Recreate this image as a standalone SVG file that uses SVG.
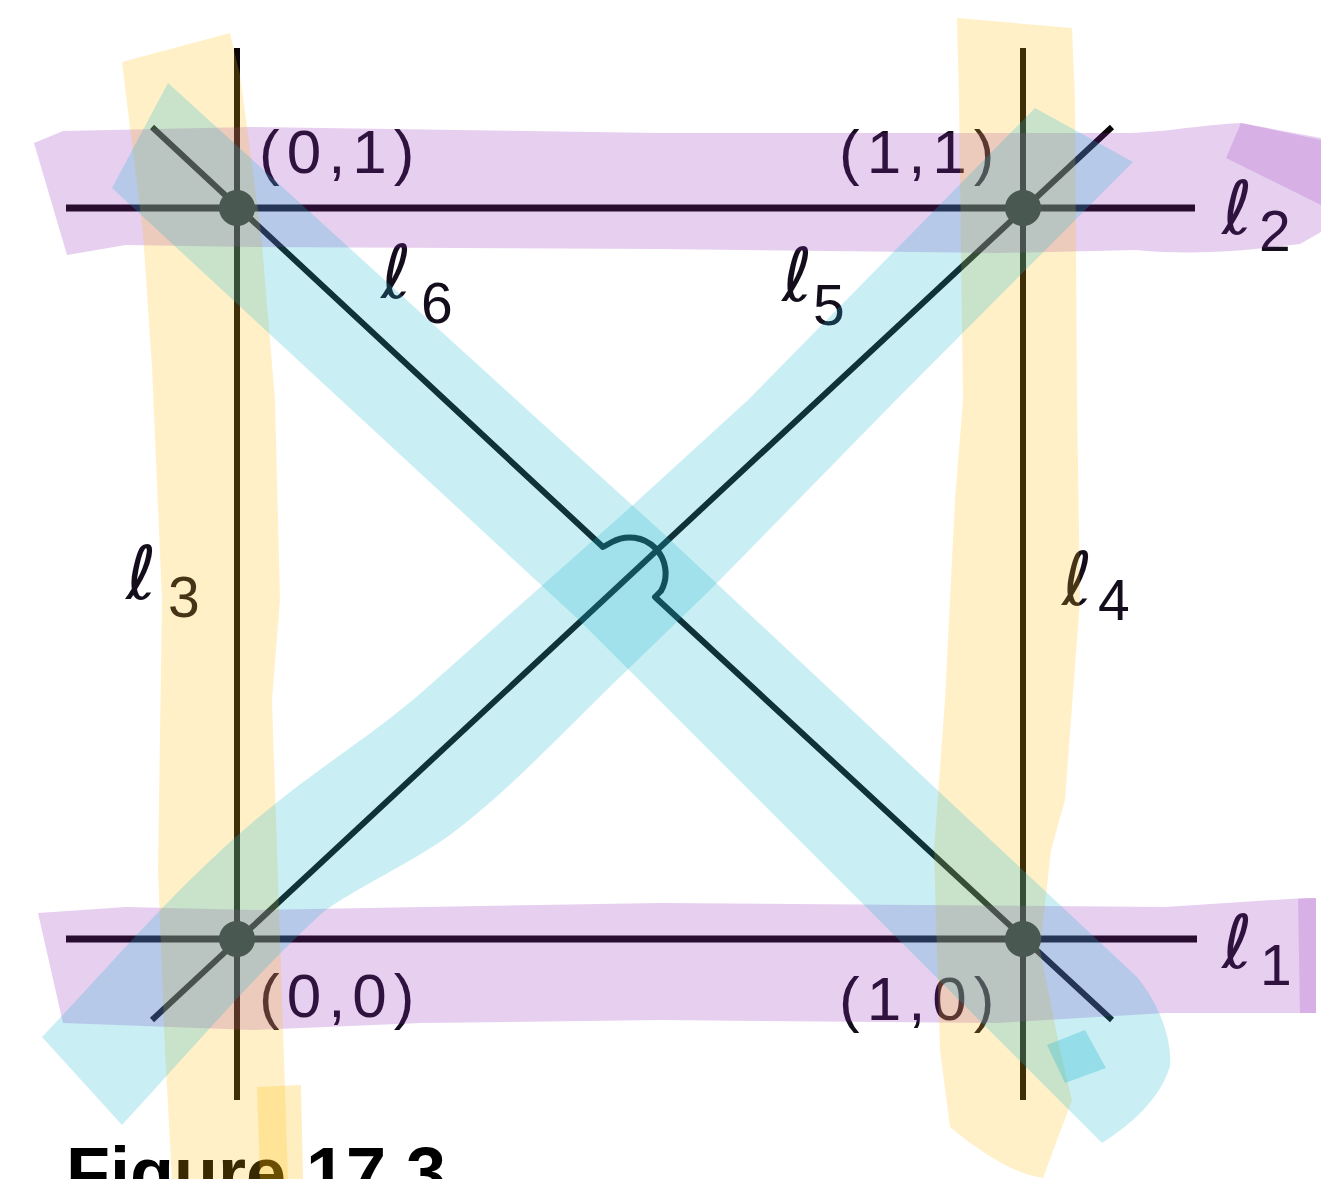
<svg xmlns="http://www.w3.org/2000/svg" width="1321" height="1179" viewBox="0 0 1321 1179">
<style>
.ln{stroke:#0b0709;stroke-width:6;fill:none;stroke-linecap:butt;stroke-linejoin:round}
.hz{stroke-width:7}
.dot{fill:#0e1512}
.lbl{font-family:"Liberation Sans",Arial,sans-serif;font-size:62px;fill:#140e1c;letter-spacing:7px}
.ell{font-family:"DejaVu Sans",sans-serif;font-style:italic;font-size:74px;fill:#140e1c}
.sub{font-family:"Liberation Sans",Arial,sans-serif;font-style:normal;font-size:57px;fill:#140e1c}
.cap{font-family:"Liberation Sans",Arial,sans-serif;font-weight:bold;font-size:72px;fill:#000}
.pu{fill:rgb(146,37,187);fill-opacity:.22}
.pud{fill:rgb(146,37,187);fill-opacity:.18}
.ye{fill:rgb(255,187,5);fill-opacity:.22}
.yed{fill:rgb(255,187,5);fill-opacity:.25}
.cy{fill:rgb(30,184,209);fill-opacity:.24}
.cyd{fill:rgb(30,184,209);fill-opacity:.3}
</style>
<rect width="1321" height="1179" fill="#fff"/>
<g id="connectors">
  <line id="l2" class="ln hz" x1="66" y1="208" x2="1195" y2="208"/>
  <line id="l1" class="ln hz" x1="66" y1="939" x2="1197" y2="939"/>
  <line id="l3" class="ln" x1="237" y1="48" x2="237" y2="1100"/>
  <line id="l4" class="ln" x1="1023" y1="48" x2="1023" y2="1100"/>
  <line id="l5" class="ln" x1="152" y1="1020" x2="1112" y2="127"/>
  <path id="l6" class="ln" d="M152,127 L603,547 L612,542 A36,36 0 0 1 661,591 L655,597 L1112,1020"/>
  <text class="ell" x="1222" y="234">ℓ<tspan class="sub" x="1259" y="251">2</tspan></text>
  <text class="ell" x="1222" y="968">ℓ<tspan class="sub" x="1260" y="985">1</tspan></text>
  <text class="ell" x="126" y="599">ℓ<tspan class="sub" x="168" y="617">3</tspan></text>
  <text class="ell" x="1062" y="605">ℓ<tspan class="sub" x="1098" y="620">4</tspan></text>
  <text class="ell" x="782" y="301">ℓ<tspan class="sub" x="813" y="325">5</tspan></text>
  <text class="ell" x="381" y="298">ℓ<tspan class="sub" x="421" y="323">6</tspan></text>
</g>
<g id="p01"><circle class="dot" cx="237" cy="208" r="18"/><text class="lbl" x="259" y="173">(0,1)</text></g>
<g id="p11"><circle class="dot" cx="1023" cy="208" r="18"/><text class="lbl" x="839" y="173">(1,1)</text></g>
<g id="p00"><circle class="dot" cx="237" cy="939" r="18"/><text class="lbl" x="259" y="1017">(0,0)</text></g>
<g id="p10"><circle class="dot" cx="1023" cy="939" r="18"/><text class="lbl" x="839" y="1020">(1,0)</text></g>
<text class="cap" x="66" y="1198">Figure 17.3</text>
<g id="highlights">
  <path class="pu" d="M34,143 L63,131 L250,127 L660,133 L1123,133 C1160,133 1190,126 1241,123 L1321,138 L1321,232 L1300,244 C1250,250 1200,256 1136,250 L1000,253 L660,249 L252,247 L126,245 L67,255 Z"/>
  <path class="pud" d="M1241,123 L1321,140 L1321,205 L1226,158 Z"/>
  <path class="pu" d="M38,913 L126,907 L252,910 L660,903 L1165,907 L1304,898 L1316,898 L1316,1013 L1165,1013 L997,1023 L660,1020 L421,1023 L252,1030 L63,1023 Z"/>
  <path class="pud" d="M1298,899 L1316,898 L1316,1013 L1300,1013 Z"/>
  <path class="ye" d="M122,62 L230,33 L240,75 L261,233 L275,400 L280,600 L272,700 L282,1000 L288,1179 L172,1179 L165,1050 L158,870 L162,600 L152,367 L143,233 Z"/>
  <path class="yed" d="M257,1087 L301,1085 L303,1179 L260,1179 Z"/>
  <path class="ye" d="M957,18 L1072,28 L1075,100 L1077,400 L1080,600 L1065,800 L1051,850 L1040,950 L1060,1050 L1072,1100 L1043,1178 C1020,1175 990,1160 950,1127 L940,1050 L934,850 L945,700 L955,500 L963,400 L959,100 Z"/>
  <path class="cy" d="M168,83 L665,535 L1137,977 C1160,1005 1172,1040 1170,1066 C1160,1100 1130,1125 1102,1143 L580,621 L112,188 Z"/>
  <path class="cyd" d="M1047,1045 L1085,1030 L1106,1068 L1065,1083 Z"/>
  <path class="cy" d="M42,1037 C120,955 190,870 280,800 C330,760 380,730 430,685 L633,505 L748,400 L1035,108 L1133,162 L896,400 L713,587 L620,677 C560,735 510,790 450,835 C400,870 350,890 320,915 C260,970 200,1040 122,1125 Z"/>
</g>
</svg>
